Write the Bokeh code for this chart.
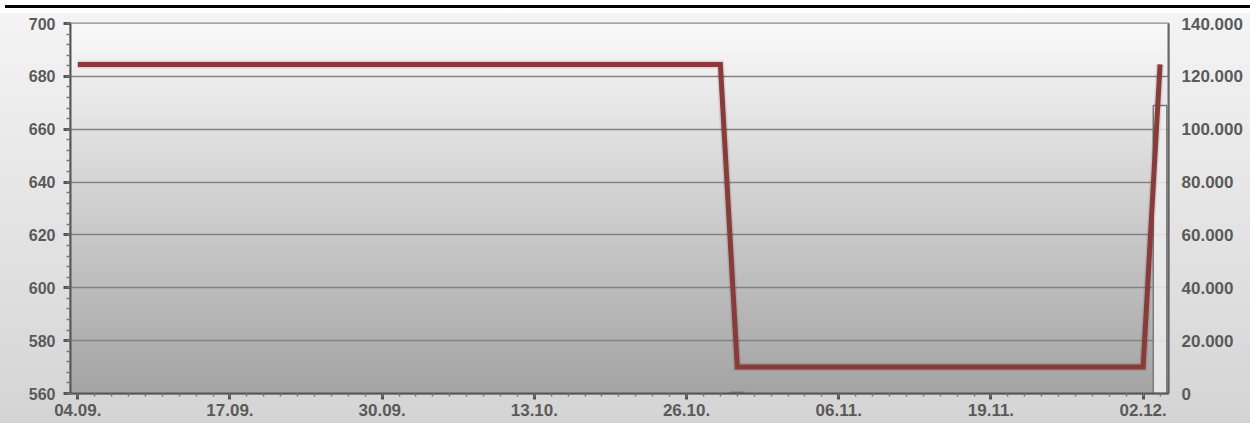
import numpy as np
from bokeh.plotting import figure
from bokeh.models import Range1d, LinearAxis, FixedTicker, Div
from bokeh.layouts import column
from bokeh.embed import file_html
from bokeh.resources import INLINE

# ---- data (trading-day index) ----
day_index = list(range(65))
price = [
    684.5, 684.5, 684.5, 684.5, 684.5, 684.5, 684.5, 684.5, 684.5, 684.5,
    684.5, 684.5, 684.5, 684.5, 684.5, 684.5, 684.5, 684.5, 684.5, 684.5,
    684.5, 684.5, 684.5, 684.5, 684.5, 684.5, 684.5, 684.5, 684.5, 684.5,
    684.5, 684.5, 684.5, 684.5, 684.5, 684.5, 684.5, 684.5, 684.5, 570.0,
    570.0, 570.0, 570.0, 570.0, 570.0, 570.0, 570.0, 570.0, 570.0, 570.0,
    570.0, 570.0, 570.0, 570.0, 570.0, 570.0, 570.0, 570.0, 570.0, 570.0,
    570.0, 570.0, 570.0, 570.0, 684.5,
]
volume_day = [39, 64]
volume = [500, 109000]

tick_days = [0, 9, 18, 27, 36, 45, 54, 63]
tick_labels = ["04.09.", "17.09.", "30.09.", "13.10.", "26.10.", "06.11.", "19.11.", "02.12."]
left_ticks = [560, 580, 600, 620, 640, 660, 680, 700]
right_ticks = [0, 20000, 40000, 60000, 80000, 100000, 120000, 140000]
right_labels = ["0", "20.000", "40.000", "60.000", "80.000", "100.000", "120.000", "140.000"]

X0, X1 = -0.43, 64.5
Y0, Y1 = 560, 700

FONT = "Liberation Sans"
LABEL_COLOR = "#5a5a5a"

p = figure(width=1250, height=412, x_range=Range1d(X0, X1), y_range=Range1d(Y0, Y1),
           output_backend="svg", toolbar_location=None,
           min_border_left=70, min_border_right=82, min_border_top=10, min_border_bottom=32)
p.border_fill_color = None
p.background_fill_color = None
p.styles = {"background": "linear-gradient(to bottom, #f4f4f4, #d4d4d4)"}
p.outline_line_color = "#8a8a8a"
p.outline_line_width = 2

# plot-area gradient
N = 256
img = np.empty((N, 1), dtype=np.uint32)
view = img.view(dtype=np.uint8).reshape((N, 1, 4))
vals = np.linspace(0xa4, 0xfa, N).astype(np.uint8)
view[:, 0, 0] = vals
view[:, 0, 1] = vals
view[:, 0, 2] = vals
view[:, 0, 3] = 255
p.image_rgba(image=[img], x=X0, y=Y0, dw=X1 - X0, dh=Y1 - Y0, level="image")

# grid
p.xgrid.visible = False
p.ygrid.ticker = FixedTicker(ticks=left_ticks)
p.ygrid.grid_line_color = "#838383"
p.ygrid.grid_line_width = 1.5

# left axis
ya = p.yaxis[0]
ya.ticker = FixedTicker(ticks=left_ticks, minor_ticks=list(range(560, 701, 4)))
ya.axis_line_color = "#555555"
ya.axis_line_width = 2
ya.major_tick_line_color = "#555555"
ya.major_tick_line_width = 3
ya.major_tick_out = 7
ya.major_tick_in = 0
ya.minor_tick_line_color = "#777777"
ya.minor_tick_line_width = 1.5
ya.minor_tick_out = 4
ya.minor_tick_in = 0
ya.major_label_text_font = FONT
ya.major_label_text_font_style = "bold"
ya.major_label_text_font_size = "16px"
ya.major_label_text_color = LABEL_COLOR
ya.major_label_standoff = 8

# bottom axis
xa = p.xaxis[0]
xa.ticker = FixedTicker(ticks=tick_days, minor_ticks=list(range(0, 65)))
xa.major_label_overrides = {d: l for d, l in zip(tick_days, tick_labels)}
xa.axis_line_color = "#555555"
xa.axis_line_width = 2
xa.major_tick_line_color = "#555555"
xa.major_tick_line_width = 3
xa.major_tick_out = 6
xa.major_tick_in = 0
xa.minor_tick_line_color = "#777777"
xa.minor_tick_line_width = 1.5
xa.minor_tick_out = 3
xa.minor_tick_in = 0
xa.major_label_text_font = FONT
xa.major_label_text_font_style = "bold"
xa.major_label_text_font_size = "17px"
xa.major_label_text_color = LABEL_COLOR
xa.major_label_standoff = 4

# right axis (volume)
p.extra_y_ranges = {"vol": Range1d(0, 140000)}
ra = LinearAxis(y_range_name="vol", ticker=FixedTicker(ticks=right_ticks))
ra.major_label_overrides = {t: l for t, l in zip(right_ticks, right_labels)}
ra.axis_line_color = "#666666"
ra.axis_line_width = 2
ra.major_tick_out = 0
ra.major_tick_in = 0
ra.minor_tick_out = 0
ra.minor_tick_in = 0
ra.major_label_text_font = FONT
ra.major_label_text_font_style = "bold"
ra.major_label_text_font_size = "17px"
ra.major_label_text_color = LABEL_COLOR
ra.major_label_standoff = 13
p.add_layout(ra, "right")

# volume bars
p.vbar(x=volume_day, top=volume, bottom=0, width=0.8, y_range_name="vol",
       fill_color="#eeeeee", fill_alpha=0.85, line_color="#7a7a7a", line_width=1.5)

# price line (soft shadow + line)
p.line(day_index, price, line_color="#000000", line_alpha=0.10, line_width=8, line_join="miter")
p.line(day_index, price, line_color="#8b3a3a", line_width=5, line_join="miter")

top_bar = Div(text="", width=1250, height=3, styles={"background-color": "#000000"})
layout = column(top_bar, p, spacing=0)

open("out.html", "w").write(file_html(layout, INLINE))
